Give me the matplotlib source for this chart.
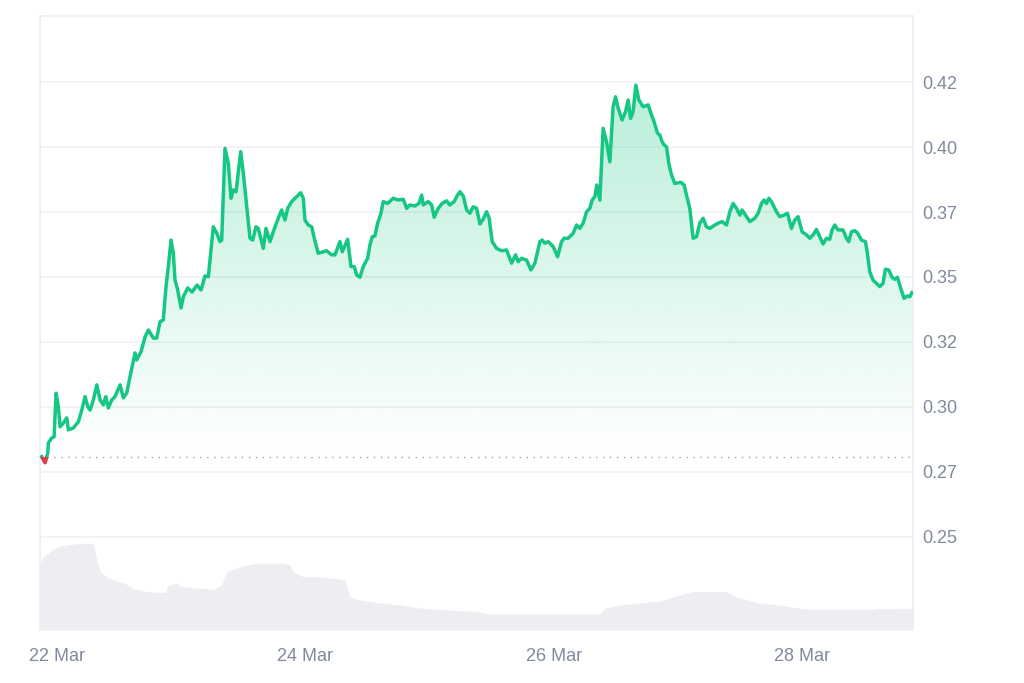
import matplotlib
matplotlib.use("Agg")
import matplotlib.pyplot as plt
import matplotlib.dates as mdates
from matplotlib.path import Path
from matplotlib.patches import Rectangle
import numpy as np
import pandas as pd

plt.rcParams["font.family"] = ["Liberation Sans", "DejaVu Sans"]

# price, hours after 22 Mar 00:00
price_hours = [
    -2.96, -2.32, -1.80, -1.68, -1.02, -0.58, -0.19, 0.25, 0.58, 1.22, 1.87, 2.18, 3.15, 4.11,
    4.77, 5.41, 5.93, 6.37, 7.01, 7.67, 8.31, 8.94, 9.41, 9.91, 10.57, 11.20, 12.17, 12.81,
    13.46, 14.10, 15.07, 15.39, 16.23, 17.00, 17.64, 18.60, 19.26, 19.90, 20.53, 21.05, 21.50,
    22.02, 22.46, 22.79, 23.31, 23.95, 24.40, 25.25, 26.08, 27.04, 27.82, 28.59, 29.23,
    30.19, 30.85, 31.49, 31.81, 32.45, 33.09, 33.61, 34.05, 34.58, 35.48, 35.99, 37.28, 37.80,
    38.44, 38.88, 39.35, 39.85, 40.37, 41.14, 42.11, 42.75, 43.40, 44.04, 44.56, 45.33, 46.30,
    47.07, 47.58, 47.90, 48.54, 49.20, 49.70, 50.47, 51.44, 52.09, 53.06, 53.70, 54.66,
    55.11, 56.15, 56.79, 57.43, 57.89, 58.53, 59.17, 60.01, 60.46, 60.90, 61.42, 61.95, 62.58,
    63.03, 63.88, 64.96, 65.93, 66.89, 67.55, 68.18, 69.15, 69.92, 70.45, 70.76, 71.72, 72.38,
    72.88, 73.65, 74.42, 75.27, 75.91, 76.74, 77.21, 77.84, 78.48, 79.14, 79.77, 80.41, 81.07,
    81.71, 82.34, 83.00, 83.50, 84.08, 84.93, 85.90,
    86.86, 87.83, 88.60, 89.11, 89.76, 90.73, 91.56, 92.33, 93.30, 93.74, 94.26, 94.90, 95.87,
    96.72, 97.49, 97.99, 98.76, 99.73, 100.39, 101.02, 101.66, 102.32, 102.95, 103.40, 103.92,
    104.31, 104.89, 105.52, 106.18, 106.82, 107.45, 107.92, 108.42, 109.19, 109.85, 110.35,
    110.82, 111.32, 111.84, 112.42, 113.25, 114.22,
    114.87, 115.37, 116.03, 116.48, 116.92, 117.31, 117.77, 118.21, 118.74, 119.37, 120.53,
    121.17, 121.63, 122.27, 122.91, 123.56, 124.20, 124.84, 125.49, 126.13, 127.10, 127.74,
    128.51, 129.36, 130.00, 130.64, 131.29, 131.93, 132.37, 133.22, 133.86, 134.83, 135.46,
    136.12, 136.62, 137.09, 137.53, 138.05, 139.02, 139.66, 140.49, 141.14, 141.91, 142.55,
    143.19,
    143.96, 144.81, 145.45, 146.09, 146.74, 147.38, 148.02, 148.68, 149.31, 149.76, 150.28,
    150.92, 151.88, 152.54, 152.98, 153.50, 154.14, 154.66, 155.43, 156.21, 156.59, 157.04,
    157.68, 158.33, 158.97, 159.61, 160.07, 160.71, 161.35, 161.87, 162.39, 163.03, 163.67,
    164.32, 164.77, 165.21,
]
price = [
    0.2809, 0.2786, 0.2823, 0.2862, 0.2881, 0.2885, 0.3053, 0.3001, 0.2924, 0.2938, 0.2958,
    0.2912, 0.2919, 0.2943, 0.2988, 0.3040, 0.3001, 0.2988, 0.3027, 0.3085, 0.3027, 0.3008,
    0.3040, 0.2996, 0.3027, 0.3040, 0.3085, 0.3035, 0.3054, 0.3117, 0.3208, 0.3181, 0.3213,
    0.3270, 0.3296, 0.3265, 0.3265, 0.3328, 0.3335, 0.3463, 0.3540, 0.3642, 0.3592, 0.3488,
    0.3450, 0.3381, 0.3424, 0.3458, 0.3442, 0.3469, 0.3450, 0.3504, 0.3501,
    0.3693, 0.3669, 0.3636, 0.3642, 0.3995, 0.3937, 0.3803, 0.3835, 0.3828, 0.3982, 0.3899,
    0.3649, 0.3642, 0.3693, 0.3687, 0.3649, 0.3610, 0.3687, 0.3636, 0.3693, 0.3726, 0.3758,
    0.3719, 0.3764, 0.3790, 0.3809, 0.3824, 0.3803, 0.3719, 0.3700, 0.3693, 0.3649, 0.3591,
    0.3597, 0.3601, 0.3585, 0.3585, 0.3636,
    0.3597, 0.3645, 0.3540, 0.3540, 0.3508, 0.3499, 0.3540, 0.3572, 0.3623, 0.3655, 0.3658,
    0.3707, 0.3745, 0.3790, 0.3783, 0.3803, 0.3796, 0.3799, 0.3764, 0.3777, 0.3773, 0.3783,
    0.3815, 0.3777, 0.3790, 0.3777, 0.3730, 0.3764, 0.3783, 0.3793, 0.3777, 0.3790, 0.3809,
    0.3828, 0.3812, 0.3758, 0.3745, 0.3770, 0.3764, 0.3704, 0.3722, 0.3751, 0.3726, 0.3636,
    0.3610, 0.3601,
    0.3604, 0.3553, 0.3585, 0.3559, 0.3572, 0.3565, 0.3527, 0.3553, 0.3636, 0.3642, 0.3630,
    0.3636, 0.3617, 0.3578, 0.3636, 0.3649, 0.3649, 0.3668, 0.3700, 0.3687, 0.3707, 0.3751,
    0.3764, 0.3796, 0.3809, 0.3854, 0.3796, 0.4072, 0.4020, 0.3943, 0.4155, 0.4193, 0.4149,
    0.4104, 0.4136, 0.4181, 0.4110, 0.4136, 0.4238, 0.4181, 0.4155, 0.4162,
    0.4123, 0.4097, 0.4053, 0.4046, 0.4020, 0.4008, 0.4001, 0.3937, 0.3892, 0.3860, 0.3864,
    0.3854, 0.3815, 0.3764, 0.3649, 0.3655, 0.3707, 0.3726, 0.3693, 0.3687, 0.3700, 0.3707,
    0.3713, 0.3700, 0.3751, 0.3783, 0.3764, 0.3738, 0.3758, 0.3732, 0.3713, 0.3726, 0.3745,
    0.3783, 0.3796, 0.3783, 0.3803, 0.3790, 0.3751, 0.3732, 0.3738, 0.3745, 0.3687, 0.3719,
    0.3732,
    0.3674, 0.3662, 0.3649, 0.3662, 0.3683, 0.3655, 0.3627, 0.3649, 0.3645, 0.3681, 0.3700,
    0.3681, 0.3681, 0.3649, 0.3636, 0.3674, 0.3678, 0.3670, 0.3642, 0.3636, 0.3591, 0.3520,
    0.3488, 0.3476, 0.3463, 0.3476, 0.3530, 0.3527, 0.3499, 0.3491, 0.3499, 0.3457, 0.3418,
    0.3427, 0.3424, 0.3440,
]

# volume (arbitrary units), hours after 22 Mar 00:00
vol_hours = [
    -3.28, -2.65, -1.35, 0.25, 1.87, 4.44, 7.01, 7.67, 8.31, 9.60, 10.87, 13.13, 14.43, 16.67,
    19.26, 20.86, 21.50, 23.12, 24.09, 27.62, 30.19, 31.81, 32.78, 35.35, 37.92, 40.51, 43.71,
    45.01, 45.64, 47.58, 50.80, 53.37, 55.63, 56.60, 58.53, 62.39, 66.25, 70.12, 75.91, 81.71,
    83.64, 104.89, 105.85, 108.75, 112.61, 116.48, 120.34, 122.91, 129.36, 130.96, 133.22,
    135.79, 139.66, 143.52, 146.09, 157.68, 158.97, 161.54, 162.83, 165.40,
]
volume = [
    66.7, 73.3, 78.3, 83.3, 85.0, 86.7, 86.7, 70.0, 58.3, 53.3, 50.0, 46.7, 41.7, 39.0,
    37.7, 37.7, 45.0, 46.7, 43.3, 41.7, 40.7, 45.0, 58.3, 63.3, 66.0, 66.7, 66.7,
    65.0, 58.3, 53.3, 53.3, 51.7, 50.0, 33.0, 30.0, 27.0, 25.0, 22.0, 20.0, 18.0,
    16.0, 16.0, 22.0, 25.0, 27.0, 29.0, 35.0, 38.3, 38.3, 33.3, 30.0,
    26.7, 25.0, 21.7, 20.7, 20.7, 21.7, 21.0, 21.7, 21.7,
]

y_ticks = [0.25, 0.275, 0.30, 0.325, 0.35, 0.375, 0.40, 0.425]
y_tick_labels = ["0.25", "0.27", "0.30", "0.32", "0.35", "0.37", "0.40", "0.42"]
x_tick_dates = ["2025-03-22", "2025-03-24", "2025-03-26", "2025-03-28"]
x_tick_labels = ["22 Mar", "24 Mar", "26 Mar", "28 Mar"]

GREEN = "#16c784"
RED = "#ea3943"
GRID = "#eff1f4"
TEXT = "#808a9d"

start = pd.Timestamp("2025-03-22")
t = mdates.date2num((start + pd.to_timedelta(price_hours, unit="h")).values)
tv = mdates.date2num((start + pd.to_timedelta(vol_hours, unit="h")).values)
p = np.array(price)
base = p[0]

x_lo = mdates.date2num((start + pd.Timedelta(hours=-3.3)).to_datetime64())
x_hi = mdates.date2num((start + pd.Timedelta(hours=165.4)).to_datetime64())
y_lo, y_hi = 0.2142, 0.4504

fig = plt.figure(figsize=(10.24, 6.83), dpi=100)
rect = [40 / 1024, 1 - 630 / 683, 873 / 1024, 614 / 683]

# volume underneath
ax_v = fig.add_axes(rect)
ax_v.fill_between(tv, 0, volume, color="#eceef2", lw=0)
ax_v.set_xlim(x_lo, x_hi)
ax_v.set_ylim(0, 614)
ax_v.axis("off")

ax = fig.add_axes(rect)
ax.patch.set_alpha(0)

# gradient fill above the opening price
poly = ax.fill_between(t, p, base, where=p >= base, interpolate=True, color="none", lw=0)
clip = Path.make_compound_path(*poly.get_paths())
grad = np.zeros((256, 1, 4))
grad[:, 0, :3] = matplotlib.colors.to_rgb(GREEN)
grad[:, 0, 3] = np.linspace(0.0, 0.3, 256)
im = ax.imshow(grad, extent=[x_lo, x_hi, base, p.max()], origin="lower", aspect="auto", zorder=1)
im.set_clip_path(clip, transform=ax.transData)
ax.fill_between(t, p, base, where=p < base, interpolate=True, color=RED, alpha=0.15, lw=0)

ax.plot(t, p, color=GREEN, lw=2.5, zorder=3, solid_joinstyle="round")
red_line, = ax.plot(t, p, color=RED, lw=2.5, zorder=4, solid_joinstyle="round")
red_line.set_clip_path(Rectangle((x_lo, y_lo), x_hi - x_lo, base - y_lo, transform=ax.transData))

ax.axhline(base, color="#9aa1ad", lw=1, ls=(0, (1, 4)), zorder=2)

ax.set_xlim(x_lo, x_hi)
ax.set_ylim(y_lo, y_hi)
ax.set_yticks(y_ticks)
ax.set_yticklabels(y_tick_labels)
ax.yaxis.tick_right()
ax.set_xticks(mdates.date2num(pd.to_datetime(x_tick_dates).values))
ax.set_xticklabels(x_tick_labels)
ax.tick_params(axis="y", length=0, pad=7, labelsize=13, labelcolor=TEXT)
ax.tick_params(axis="x", length=0, pad=13, labelsize=13, labelcolor=TEXT)
ax.grid(axis="y", color=GRID, lw=1.2, zorder=0)
ax.set_axisbelow(True)

for side in ("top", "left", "right"):
    ax.spines[side].set_color("#eceef1")
    ax.spines[side].set_linewidth(1.2)
ax.spines["bottom"].set_visible(False)

fig.savefig("out.png", dpi=100)
